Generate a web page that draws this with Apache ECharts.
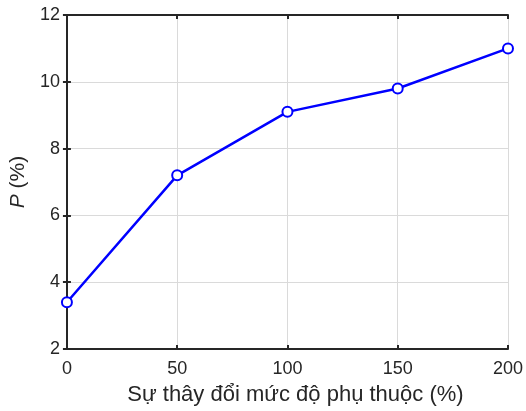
<!DOCTYPE html>
<html>
<head>
<meta charset="utf-8">
<script src="https://cdn.jsdelivr.net/npm/echarts@6/dist/echarts.min.js"></script>
<style>
html, body { margin: 0; padding: 0; background: #fff; }
#chart { width: 526px; height: 411px; }
</style>
</head>
<body>
<div id="chart"></div>
<script>
// data
const dependency_change = [0, 50, 100, 150, 200];
const p_values = [3.4, 7.2, 9.1, 9.8, 11.0];

const TEXT_COLOR = '#262626';
const FONT = 'Liberation Sans, Arial, sans-serif';

let chart = echarts.init(document.getElementById('chart'));

let frame_axis = {
    axisLine: { show: true, lineStyle: { color: TEXT_COLOR, width: 2 } },
    axisTick: { show: true, inside: true, length: 4, lineStyle: { color: TEXT_COLOR, width: 2 } },
    axisLabel: { show: false },
    splitLine: { show: false }
};

let options = {
    animation: false,
    grid: { left: 66, right: 17, top: 15, bottom: 59 },
    xAxis: [
        {
            type: 'value',
            min: 0, max: 200, interval: 50,
            name: 'Sự thây đổi mức độ phụ thuộc (%)',
            nameLocation: 'middle',
            nameGap: 35,
            nameTextStyle: { color: TEXT_COLOR, fontSize: 22, fontFamily: FONT, padding: [0, 0, 0, 16] },
            axisLine: { lineStyle: { color: TEXT_COLOR, width: 2 } },
            axisTick: { inside: true, length: 4, lineStyle: { color: TEXT_COLOR, width: 2 } },
            axisLabel: { color: TEXT_COLOR, fontSize: 18, fontFamily: FONT, margin: 11 },
            splitLine: { show: true, lineStyle: { color: '#dadada', width: 1 } }
        },
        Object.assign({ type: 'value', position: 'top', min: 0, max: 200, interval: 50 }, frame_axis)
    ],
    yAxis: [
        {
            type: 'value',
            min: 2, max: 12, interval: 2,
            name: '{i|P} (%)',
            nameLocation: 'middle',
            nameGap: 32,
            nameTextStyle: {
                color: TEXT_COLOR, fontSize: 21, fontFamily: FONT,
                rich: { i: { fontStyle: 'italic', color: TEXT_COLOR, fontSize: 21, fontFamily: FONT } }
            },
            axisLine: { show: true, lineStyle: { color: TEXT_COLOR, width: 2 } },
            axisTick: { show: true, inside: true, length: 4, lineStyle: { color: TEXT_COLOR, width: 2 } },
            axisLabel: { color: TEXT_COLOR, fontSize: 18, fontFamily: FONT, margin: 7 },
            splitLine: { show: true, lineStyle: { color: '#dadada', width: 1 } }
        },
        Object.assign({ type: 'value', position: 'right', min: 2, max: 12, interval: 2 }, frame_axis)
    ],
    series: [
        {
            type: 'line',
            data: dependency_change.map((x, i) => [x, p_values[i]]),
            lineStyle: { color: '#0000ff', width: 2.5 },
            symbol: 'circle',
            symbolSize: 10,
            itemStyle: { color: '#ffffff', borderColor: '#0000ff', borderWidth: 2 },
            z: 5
        }
    ]
};

chart.setOption(options);
</script>
</body>
</html>
